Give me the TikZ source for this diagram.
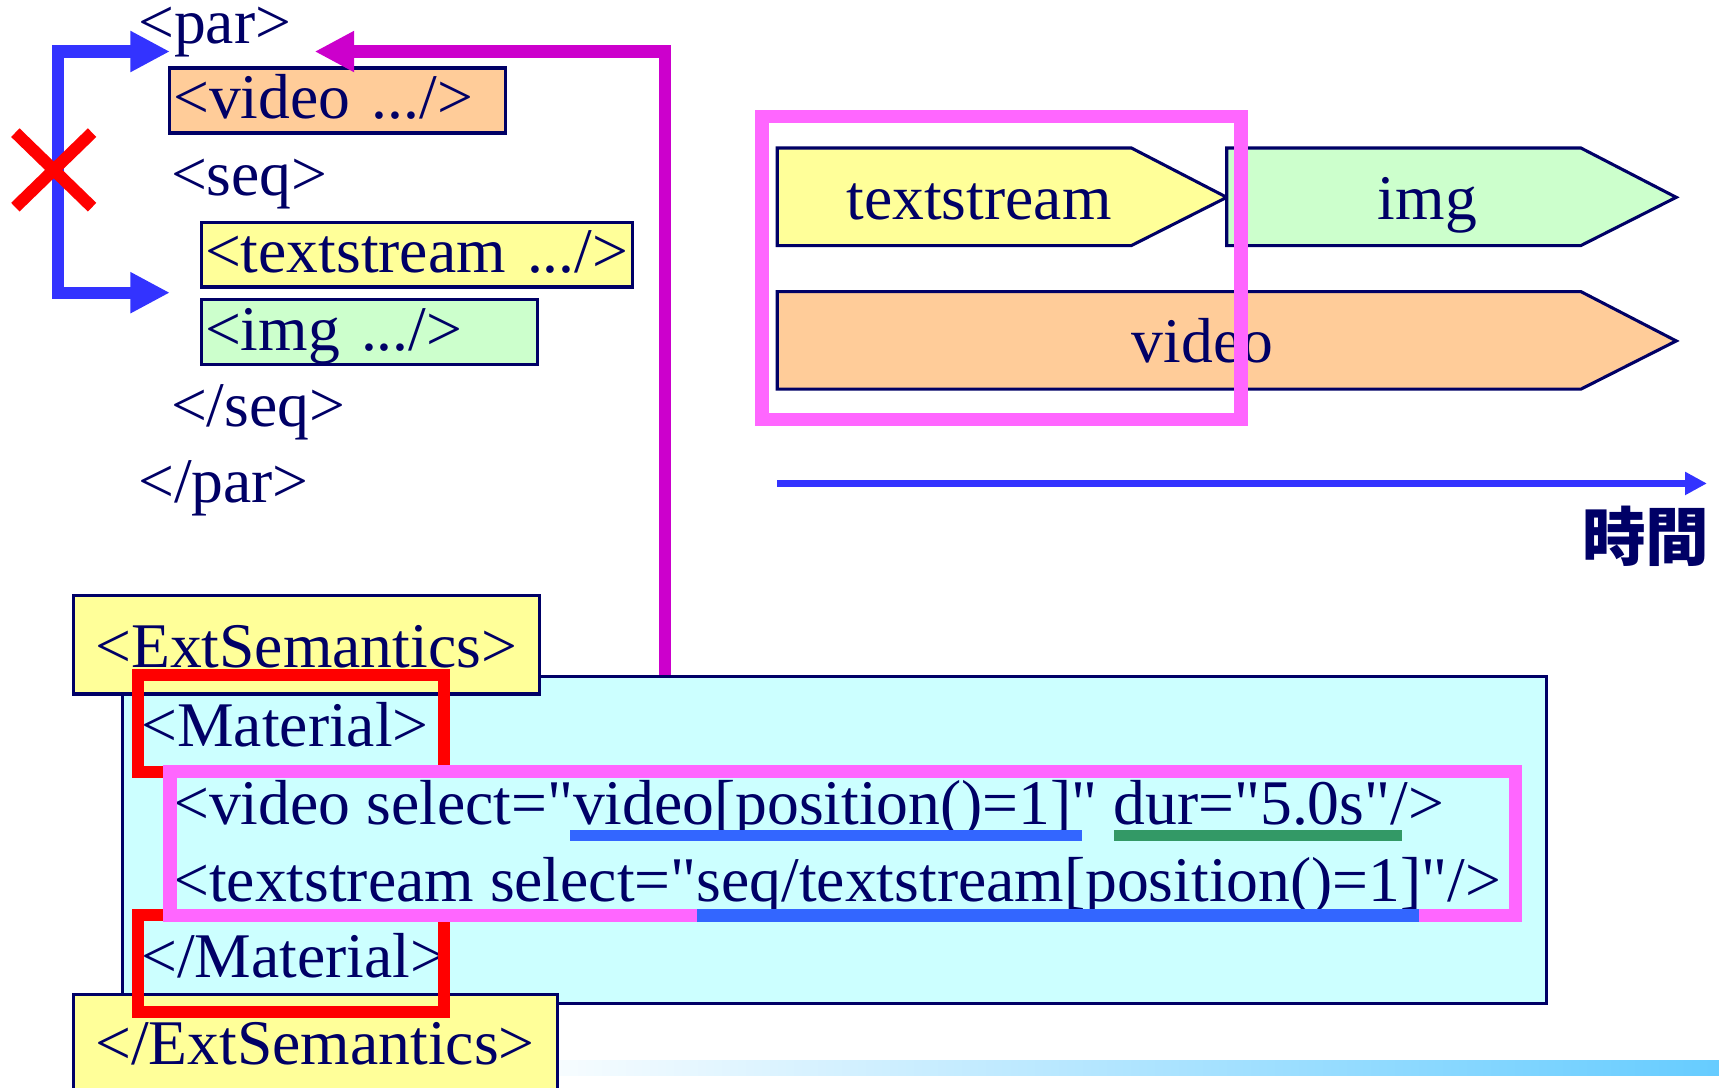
\documentclass[tikz,border=0pt]{standalone}
\usepackage{fontspec}
\setmainfont{Liberation Serif}[Ligatures=TeXOff]
\newfontfamily\cjk{Noto Sans CJK JP}
\usepackage{tikz}
\usetikzlibrary{arrows.meta, positioning}

\definecolor{navy}{RGB}{0,0,102}
\definecolor{peach}{RGB}{255,204,153}
\definecolor{lemon}{RGB}{255,255,153}
\definecolor{mint}{RGB}{204,255,204}
\definecolor{aqua}{RGB}{204,255,255}
\definecolor{pinkline}{RGB}{255,102,255}
\definecolor{purpleline}{RGB}{204,0,204}
\definecolor{blueline}{RGB}{51,51,255}
\definecolor{xpathblue}{RGB}{51,102,255}
\definecolor{durgreen}{RGB}{51,153,102}
\definecolor{barblue}{RGB}{102,204,255}

\begin{document}
\begin{tikzpicture}[x=0.01cm, y=-0.01cm,
    font=\fontsize{16.5}{19.8}\selectfont,
    codeline/.style={text=navy, inner sep=0pt, outer sep=0pt, anchor=base west},
    tagbox/.style={codeline, draw=navy, line width=0.8pt, inner xsep=0.03cm, inner ysep=0pt, text height=0.464cm, text depth=0.128cm, align=left},
    extbox/.style={codeline, draw=navy, fill=lemon, line width=0.8pt, inner xsep=0.2cm, inner ysep=0pt, align=left},
    mediabar/.style={draw=navy, line width=0.8pt},
    medialabel/.style={text=navy, inner sep=0pt, anchor=base},
    jump/.style={line width=0.11cm},
    redframe/.style={draw=red, line width=0.11cm},
    pinkframe/.style={draw=pinkline, line width=0.12cm},
    underbar/.style={line width=0.1cm}]

    \useasboundingbox (0,0) rectangle (1568,992);
    \clip (0,0) rectangle (1568,992);

    % fading bar along the bottom
    \shade[left color=white, right color=barblue] (450,967) rectangle (1568,981);

    % par / seq listing
    \node[codeline, text height=0.34cm] (par) at (126,40) {<par>};
    \node[tagbox, fill=peach, text width=3cm] (video) at (155,108.5) {<video .../>};
    \node[codeline] (seq) at (156,178.5) {<seq>};
    \node[tagbox, fill=lemon, text width=3.87cm] (textstream) at (184,249) {<textstream .../>};
    \node[tagbox, fill=mint, text width=3cm] (img) at (184,320) {<img .../>};
    \node[codeline] (seqend) at (156,389) {</seq>};
    \node[codeline] (parend) at (126,458) {</par>};

    % par start vs. seq start
    \coordinate (parin) at (155,47);
    \coordinate (seqin) at (155,267);
    \draw[jump, draw=blueline, {Triangle[length=0.36cm, width=0.35cm]}-{Triangle[length=0.36cm, width=0.35cm]}]
        (parin) -- ++(-102,0) |- (seqin);
    \draw[redframe] (14,121) -- (84,189) (84,121) -- (14,189);

    % ExtSemantics block
    \node[draw=navy, fill=aqua, line width=0.8pt, minimum width=12.98cm, minimum height=2.98cm, inner sep=0pt] (body) at (761,766) {};
    \node[extbox, text height=0.66cm, text depth=0.24cm, text width=3.85cm] (ext) at (67,609) {<ExtSemantics>};
    \node[extbox, text height=0.64cm, text depth=0.4cm, text width=4.01cm] (extend) at (67,971) {</ExtSemantics>};

    \node[codeline] (mat) at (129,681) {<Material>};
    \node[codeline] (vsel) at (158,752) {<video select="video[position()=1]" dur="5.0s"/>};
    \node[codeline] (tsel) at (158,822) {<textstream select="seq/textstream[position()=1]"/>};
    \node[codeline] (matend) at (129,892) {</Material>};

    \draw[redframe] (126,616) rectangle (405,704);
    \draw[redframe] (126,835) rectangle (405,923);
    \draw[pinkframe] (155,704) rectangle (1382,835);
    \draw[underbar, draw=xpathblue] (520,762) -- (987,762);
    \draw[underbar, draw=durgreen] (1016,762) -- (1279,762);
    \draw[underbar, draw=xpathblue, line width=0.12cm] (636,835) -- (1294,835);

    % selection goes back to par
    \coordinate (selx) at (607,0);
    \coordinate (parout) at (287,47);
    \draw[jump, draw=purpleline, -{Triangle[length=0.36cm, width=0.35cm]}] (body.north -| selx) |- (parout);

    % timeline
    \draw[mediabar, fill=lemon] (709,135) -- (1032,135) -- (1119,180) -- (1032,224) -- (709,224) -- cycle;
    \draw[mediabar, fill=mint] (1119,135) -- (1442,135) -- (1529,180) -- (1442,224) -- (1119,224) -- cycle;
    \draw[mediabar, fill=peach] (709,266) -- (1442,266) -- (1529,311) -- (1442,355) -- (709,355) -- cycle;
    \node[medialabel] (tsbar) at (893,200) {textstream};
    \node[medialabel] (imgbar) at (1302,200) {img};
    \node[medialabel] (videobar) at (1097,331) {video};
    \draw[pinkframe] (695,106) rectangle (1132,383);

    \coordinate (t0) at (709,441);
    \coordinate (t1) at (1557,441);
    \draw[line width=0.07cm, draw=blueline, -{Triangle[length=0.2cm, width=0.2cm]}] (t0) -- (t1);
    \node[anchor=base east, inner sep=0pt, text=navy, font=\cjk\bfseries\fontsize{16.5}{19.8}\selectfont] (time) at (1560,511) {時間};
\end{tikzpicture}
\end{document}
